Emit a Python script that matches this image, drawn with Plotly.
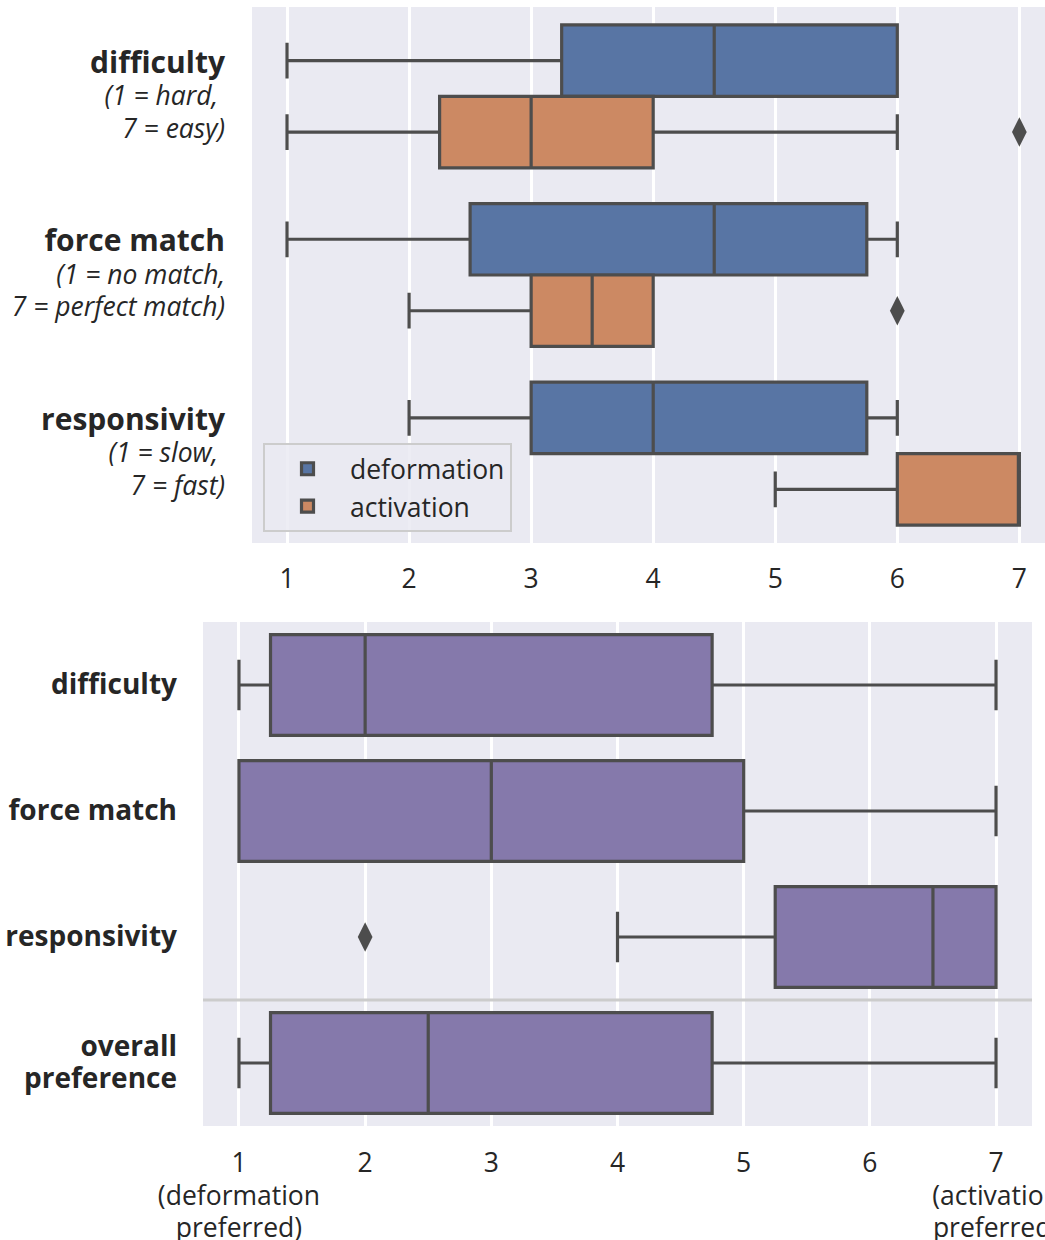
import plotly.graph_objects as go

# ---------------- data ----------------
top_categories = ["difficulty", "force match", "responsivity"]
top_subtitles = [["(1 = hard,\u00a0", "7 = easy)"],
                 ["(1 = no match,", "7 = perfect match)"],
                 ["(1 = slow,\u00a0", "7 = fast)"]]
hues = ["deformation", "activation"]

def_low = [1, 1, 2]
def_q1 = [3.25, 2.5, 3]
def_med = [4.5, 4.5, 4]
def_q3 = [6, 5.75, 5.75]
def_high = [6, 6, 6]

act_low = [1, 2, 5]
act_q1 = [2.25, 3, 6]
act_med = [3, 3.5, 7]
act_q3 = [4, 4, 7]
act_high = [6, 4, 7]
act_outlier_cat = [0, 1]
act_outlier_val = [7, 6]

bot_categories = ["difficulty", "force match", "responsivity", "overall preference"]
bot_label_lines = [["difficulty"], ["force match"], ["responsivity"], ["overall", "preference"]]
pref_low = [1, 1, 4, 1]
pref_q1 = [1.25, 1, 5.25, 1.25]
pref_med = [2, 3, 6.5, 2.5]
pref_q3 = [4.75, 5, 7, 4.75]
pref_high = [7, 7, 7, 7]
pref_outlier_cat = [2]
pref_outlier_val = [2]

x_tickvals = [1, 2, 3, 4, 5, 6, 7]
top_xticktext = ["1", "2", "3", "4", "5", "6", "7"]
bot_xtick_lines = [["1", "(deformation", "preferred)"], ["2"], ["3"], ["4"], ["5"], ["6"],
                   ["7", "(activation", "preferred)"]]

# ---------------- style ----------------
BLUE = "#5875a4"
ORANGE = "#cc8963"
PURPLE = "#8579ab"
LINE = "#4d4d4d"
BG = "#eaeaf2"
TXT = "#262626"
FONT = "Open Sans"
FS = 26.5
W, H = 1045, 1240


def span(txt, size, bold=False, italic=False):
    if bold:
        txt = "<b>%s</b>" % txt
    if italic:
        txt = "<i>%s</i>" % txt
    return '<span style="font-size:%spx">%s</span>' % (size, txt)


top_ticktext = [
    "<br>".join([span(c, 30, bold=True), span(s[0], FS, italic=True), span(s[1], FS, italic=True)])
    for c, s in zip(top_categories, top_subtitles)
]
bot_ticktext = ["<br>".join(span(ln, 28, bold=True) for ln in lines) for lines in bot_label_lines]
bot_xticktext = ["<br>".join(span(ln, FS) for ln in lines) for lines in bot_xtick_lines]

fig = go.Figure()

top_idx = list(range(len(top_categories)))
off = 0.2
fig.add_trace(go.Box(
    name=hues[0], orientation="h",
    y=[i - off for i in top_idx],
    q1=def_q1, median=def_med, q3=def_q3, lowerfence=def_low, upperfence=def_high,
    width=0.4, whiskerwidth=0.5, fillcolor=BLUE, line=dict(color=LINE, width=3.2),
    boxpoints=False, xaxis="x", yaxis="y", hoverinfo="skip",
))
fig.add_trace(go.Box(
    name=hues[1], orientation="h",
    y=[i + off for i in top_idx],
    q1=act_q1, median=act_med, q3=act_q3, lowerfence=act_low, upperfence=act_high,
    width=0.4, whiskerwidth=0.5, fillcolor=ORANGE, line=dict(color=LINE, width=3.2),
    boxpoints=False, xaxis="x", yaxis="y", hoverinfo="skip",
))
fig.add_trace(go.Scatter(
    x=act_outlier_val, y=[c + off for c in act_outlier_cat], mode="markers",
    marker=dict(symbol="diamond-tall", size=21, color=LINE),
    showlegend=False, xaxis="x", yaxis="y", hoverinfo="skip",
))

bot_idx = list(range(len(bot_categories)))
fig.add_trace(go.Box(
    name="preference", orientation="h", y=bot_idx,
    q1=pref_q1, median=pref_med, q3=pref_q3, lowerfence=pref_low, upperfence=pref_high,
    width=0.8, whiskerwidth=0.5, fillcolor=PURPLE, line=dict(color=LINE, width=3.2),
    boxpoints=False, xaxis="x2", yaxis="y2", showlegend=False, hoverinfo="skip",
))
fig.add_trace(go.Scatter(
    x=pref_outlier_val, y=pref_outlier_cat, mode="markers",
    marker=dict(symbol="diamond-tall", size=21, color=LINE),
    showlegend=False, xaxis="x2", yaxis="y2", hoverinfo="skip",
))

# separator line between rating items and overall preference
fig.add_shape(type="line", xref="x2 domain", yref="y2", x0=0, x1=1, y0=2.5, y1=2.5,
              line=dict(color="#cccccc", width=3), layer="above")

axis_common = dict(showline=False, zeroline=False, automargin=False, ticks="",
                   ticklabeloverflow="allow")
big = dict(family=FONT, size=FS, color=TXT)
base = dict(family=FONT, size=25, color=TXT)

fig.update_layout(
    width=W, height=H,
    margin=dict(l=0, r=0, t=0, b=0),
    paper_bgcolor="white", plot_bgcolor=BG,
    boxmode="overlay",
    font=dict(family=FONT, size=FS, color=TXT),
    xaxis=dict(domain=[252 / W, 1.0], anchor="y", range=[0.713, 7.21],
               tickvals=x_tickvals, ticktext=top_xticktext, tickfont=big,
               showgrid=True, gridcolor="white", gridwidth=2.5,
               ticklabelstandoff=17, **axis_common),
    yaxis=dict(domain=[1 - 543 / H, 1 - 7 / H], anchor="x", range=[2.5, -0.5],
               tickvals=top_idx, ticktext=top_ticktext, tickfont=base, showgrid=False,
               ticklabelstandoff=26, **axis_common),
    xaxis2=dict(domain=[203 / W, 1032 / W], anchor="y2", range=[0.715, 7.285],
                tickvals=x_tickvals, ticktext=bot_xticktext, tickfont=base,
                showgrid=True, gridcolor="white", gridwidth=2.5,
                ticklabelstandoff=20, **axis_common),
    yaxis2=dict(domain=[1 - 1126 / H, 1 - 622 / H], anchor="x2", range=[3.5, -0.5],
                tickvals=bot_idx, ticktext=bot_ticktext, tickfont=base, showgrid=False,
                ticklabelstandoff=25, **axis_common),
    legend=dict(x=263 / W, y=1 - 443 / H, xanchor="left", yanchor="top",
                bgcolor="rgba(234,234,242,0.85)", bordercolor="#cccccc", borderwidth=2,
                font=big, itemwidth=75, tracegroupgap=4),
    showlegend=True,
)

fig.write_html("out.html", config={"displayModeBar": False},
               post_script="document.body.style.margin='0px';")
